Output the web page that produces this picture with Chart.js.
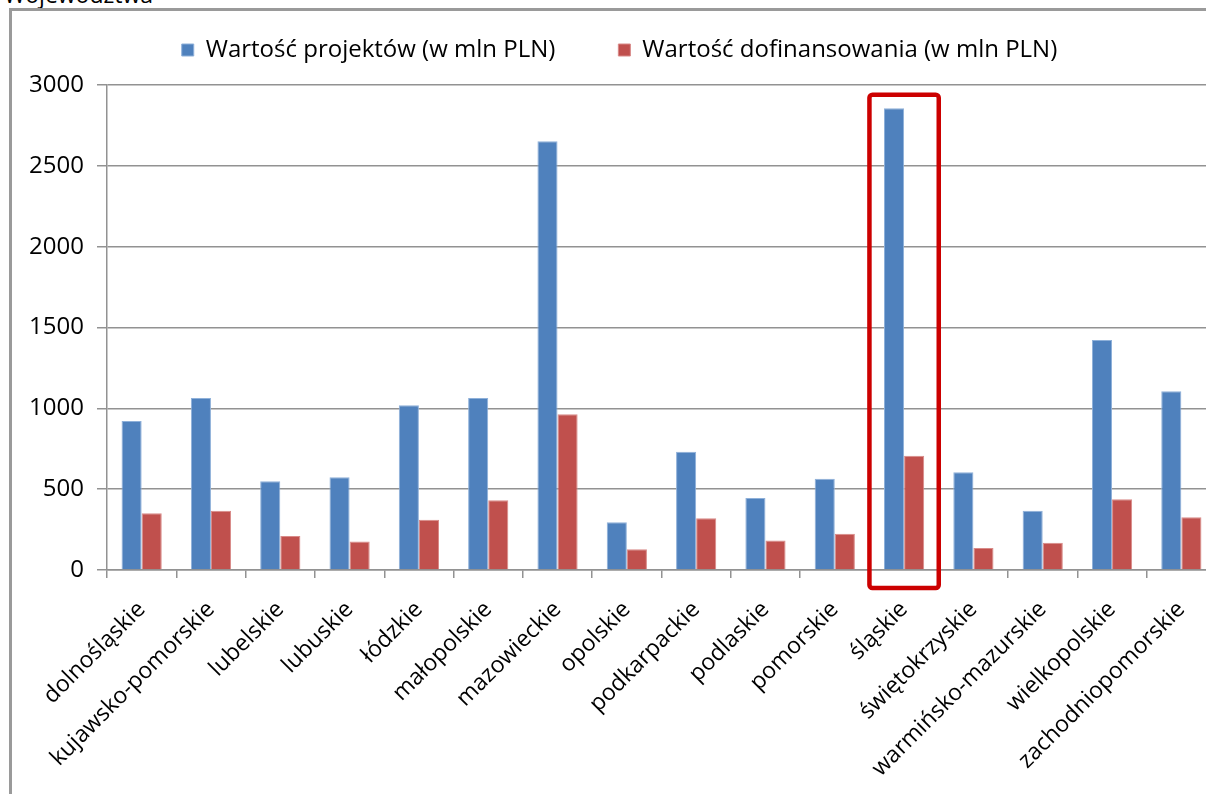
<!DOCTYPE html>
<html lang="pl">
<head>
<meta charset="utf-8">
<title>Wartość projektów według województw</title>
<script src="https://cdn.jsdelivr.net/npm/chart.js@4.4.1/dist/chart.umd.min.js"></script>
<style>
  html, body { margin: 0; padding: 0; background: #fff; }
  body { width: 1206px; height: 794px; overflow: hidden; position: relative; font-family: 'Open Sans', sans-serif; }
  .caption { position: absolute; left: 4px; top: -22px; font-size: 23px; color: #000; white-space: nowrap; }
  .frame { position: absolute; left: 9px; top: 8px; width: 1260px; height: 820px;
           border-left: 3px solid #9a9a9a; border-top: 3px solid #9a9a9a; box-sizing: border-box; }
  .wrap { position: absolute; left: 11px; top: 10px; width: 1220px; height: 784px; }
</style>
</head>
<body>
<div class="caption">Województwa</div>
<div class="frame"></div>
<div class="wrap"><canvas id="chartWoj"></canvas></div>
<script>
// województwa i wartości (mln PLN)
const categories = [
    'dolnośląskie', 'kujawsko-pomorskie', 'lubelskie', 'lubuskie', 'łódzkie',
    'małopolskie', 'mazowieckie', 'opolskie', 'podkarpackie', 'podlaskie',
    'pomorskie', 'śląskie', 'świętokrzyskie', 'warmińsko-mazurskie',
    'wielkopolskie', 'zachodniopomorskie'
];
const projectValues = [922, 1064, 549, 573, 1019, 1064, 2652, 295, 732, 445, 565, 2856, 604, 367, 1423, 1105];
const fundingValues = [351, 367, 210, 177, 311, 431, 963, 128, 320, 183, 225, 707, 136, 169, 437, 326];
const yTicks = [0, 500, 1000, 1500, 2000, 2500, 3000];

// wyróżnione województwo - ramka do tej wartości
const highlighted = 'śląskie';
const highlightTop = 2940;

Chart.defaults.font.family = "'Open Sans', sans-serif";
Chart.defaults.color = '#000';

const gridColor = '#929292';

// stała wysokość legendy i przesunięcie jej w górę
// (duży odstęp między pozycjami spycha ją w dół)
const legendFix = {
    id: 'legendFix',
    beforeInit(chart) {
        const lg = chart.legend;
        const fit = lg.fit;
        lg.fit = function () {
            fit.call(this);
            this.height = 75;
        };
    },
    afterLayout(chart) {
        chart.legend.top -= 35;
    }
};

// czerwona ramka wokół wybranego województwa
const highlightBox = {
    id: 'highlightBox',
    afterDatasetsDraw(chart) {
        const x = chart.scales.x, y = chart.scales.y;
        const i = categories.indexOf(highlighted);
        const half = (x.getPixelForValue(1) - x.getPixelForValue(0)) / 2;
        const c = x.getPixelForValue(i);
        const top = y.getPixelForValue(highlightTop);
        const bottom = y.getPixelForValue(0) + 18;
        const ctx = chart.ctx;
        ctx.save();
        ctx.strokeStyle = '#cc0000';
        ctx.lineWidth = 4.5;
        ctx.beginPath();
        ctx.roundRect(c - half, top, half * 2, bottom - top, 3);
        ctx.stroke();
        ctx.restore();
    }
};

const ctx = document.getElementById('chartWoj').getContext('2d');
const chart = new Chart(ctx, {
    type: 'bar',
    data: {
        labels: categories,
        datasets: [{
            label: 'Wartość projektów (w mln PLN)',
            data: projectValues,
            backgroundColor: '#4f81bd',
            borderColor: '#8eb0d9',
            borderWidth: 1
        }, {
            label: 'Wartość dofinansowania (w mln PLN)',
            data: fundingValues,
            backgroundColor: '#c0504d',
            borderColor: '#d98a88',
            borderWidth: 1
        }]
    },
    options: {
        responsive: true,
        maintainAspectRatio: false,
        animation: false,
        categoryPercentage: 0.58,
        barPercentage: 1.0,
        layout: { padding: { top: 0, left: 12, right: 15, bottom: 0 } },
        plugins: {
            tooltip: { enabled: false },
            legend: {
                position: 'top',
                labels: {
                    boxWidth: 12,
                    boxHeight: 12,
                    padding: 63,
                    color: '#000',
                    font: { size: 24 }
                }
            }
        },
        scales: {
            x: {
                afterFit: (scale) => { scale.height = 224; },
                grid: { offset: true, drawOnChartArea: false, tickLength: 8, color: gridColor, lineWidth: 1.5 },
                border: { color: gridColor, width: 1.5 },
                ticks: {
                    maxRotation: 45,
                    minRotation: 45,
                    autoSkip: false,
                    padding: 18,
                    font: { size: 23 }
                }
            },
            y: {
                min: 0,
                max: 3000,
                afterFit: (scale) => { scale.width = 84; },
                afterBuildTicks: (scale) => { scale.ticks = yTicks.map(v => ({ value: v })); },
                grid: { color: gridColor, lineWidth: 1.5, tickLength: 10 },
                border: { color: gridColor, width: 1.5 },
                ticks: {
                    padding: 13,
                    font: { size: 24 },
                    callback: (v) => String(v)
                }
            }
        }
    },
    plugins: [legendFix, highlightBox]
});
</script>
</body>
</html>
